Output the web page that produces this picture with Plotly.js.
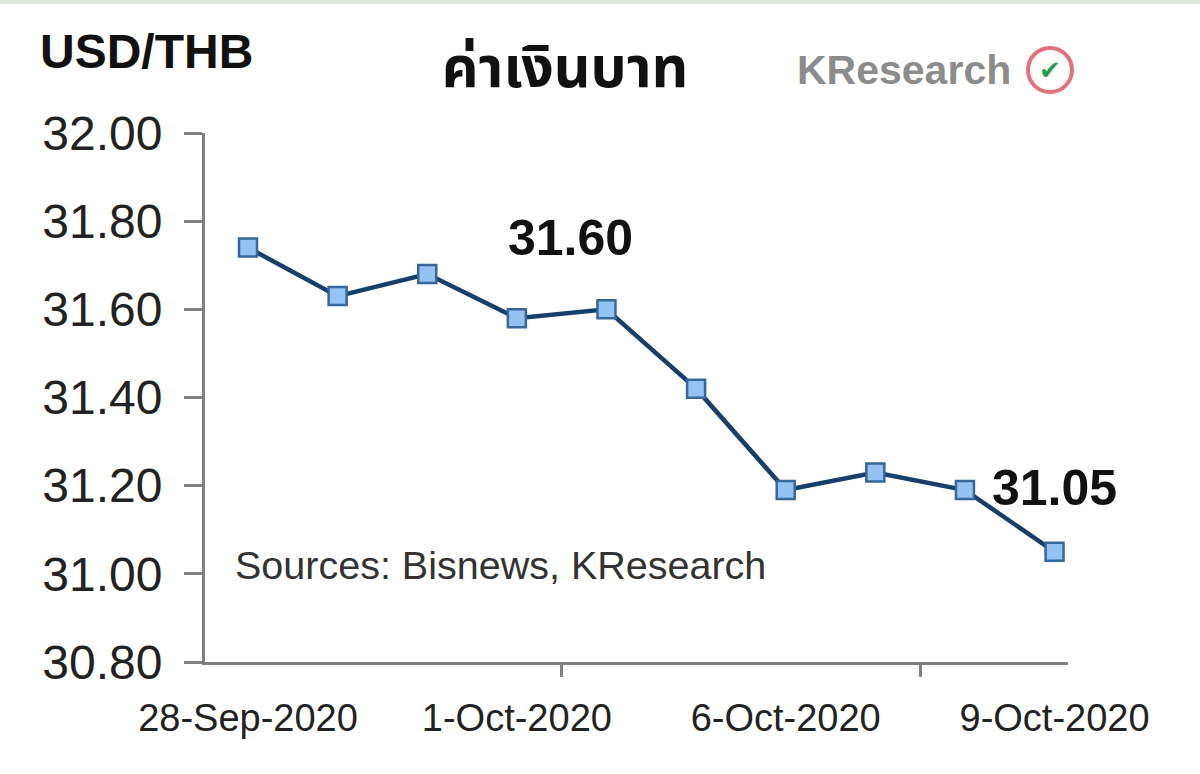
<!DOCTYPE html>
<html>
<head>
<meta charset="utf-8">
<script src="https://cdn.plot.ly/plotly-3.0.1.min.js"></script>
<style>
  html, body { margin: 0; padding: 0; background: #ffffff; }
  #chart { width: 1200px; height: 774px; }
</style>
</head>
<body>
<div id="chart"></div>
<script>
// ---- data ----
const dates = ['28-Sep-2020','29-Sep-2020','30-Sep-2020','1-Oct-2020','2-Oct-2020',
               '5-Oct-2020','6-Oct-2020','7-Oct-2020','8-Oct-2020','9-Oct-2020'];
const usdThb = [31.74, 31.63, 31.68, 31.58, 31.60, 31.42, 31.19, 31.23, 31.19, 31.05];
const xTickLabels = ['28-Sep-2020','1-Oct-2020','6-Oct-2020','9-Oct-2020'];
const yTicks = [30.80, 31.00, 31.20, 31.40, 31.60, 31.80, 32.00];
const labelledIdx = [4, 9];

// ---- layout geometry (pixels) ----
const W = 1200, H = 774;
const L = 205, R = 1068, T = 133, B = 662;
const px = p => (p - L) / (R - L);
const py = p => (B - p) / (B - T);

const FONT = 'Liberation Sans, Arial, Helvetica, sans-serif';
const THAI = 'Noto Sans Thai, Loma, Garuda, Tlwg Typo, Norasi, Noto Sans, DejaVu Sans, sans-serif';

const idx = dates.map((d, i) => i);

const traces = [
  {
    x: dates, y: usdThb, type: 'scatter', mode: 'lines+markers',
    line: { color: '#173f69', width: 4.5 },
    marker: { symbol: 'square', size: 18, color: '#93c3f3', line: { color: '#36679b', width: 2.5 } },
    cliponaxis: false, hoverinfo: 'x+y', showlegend: false
  },
  {
    // invisible helper on the secondary axis so tick marks between categories are drawn
    x: [idx[0] - 0.5], y: [usdThb[0]], xaxis: 'x2', type: 'scatter', mode: 'markers',
    marker: { opacity: 0 }, hoverinfo: 'skip', showlegend: false
  }
];

const xr = [-0.48, 9.15];

const annotations = [
  { text: '<b>USD/THB</b>', xref: 'paper', yref: 'paper', x: px(38), y: py(51),
    xanchor: 'left', yanchor: 'middle', showarrow: false,
    font: { family: FONT, size: 48, color: '#111111' } },
  { text: 'Sources: Bisnews, KResearch', xref: 'paper', yref: 'paper', x: px(233), y: py(565),
    xanchor: 'left', yanchor: 'middle', showarrow: false,
    font: { family: FONT, size: 39.5, color: '#333333' } },
  { text: '<b>KResearch</b>', xref: 'paper', yref: 'paper', x: px(795), y: py(70),
    xanchor: 'left', yanchor: 'middle', showarrow: false,
    font: { family: FONT, size: 41, color: '#8c8c8c' } },
  { text: '<b>✔</b>', xref: 'paper', yref: 'paper', x: px(1050), y: py(70),
    xanchor: 'center', yanchor: 'middle', showarrow: false,
    font: { family: 'DejaVu Sans, sans-serif', size: 26, color: '#1e9e4a' } }
];
labelledIdx.forEach((i, k) => {
  annotations.push({
    text: '<b>' + usdThb[i].toFixed(2) + '</b>', x: i, y: usdThb[i], xref: 'x', yref: 'y',
    showarrow: false, xanchor: 'center', yanchor: 'middle',
    xshift: k === 0 ? -36 : 0, yshift: k === 0 ? 71 : 64,
    font: { family: FONT, size: 50, color: '#111111' }
  });
});

const layout = {
  width: W, height: H,
  margin: { l: L, r: W - R, t: T, b: H - B, pad: 0 },
  paper_bgcolor: '#ffffff', plot_bgcolor: '#ffffff',
  showlegend: false,
  title: { text: '<b>ค่าเงินบาท</b>', x: 565 / W, xanchor: 'center', y: 1 - 67 / H, yanchor: 'middle',
           font: { family: THAI, size: 57, color: '#111111' } },
  xaxis: {
    type: 'category', range: xr, showgrid: false, zeroline: false,
    showline: true, linecolor: '#808080', linewidth: 3,
    tickmode: 'array', tickvals: xTickLabels, ticktext: xTickLabels, ticks: '',
    tickfont: { family: FONT, size: 38, color: '#222222' }, ticklabelstandoff: 20,
    fixedrange: true
  },
  xaxis2: {
    type: 'linear', overlaying: 'x', anchor: 'y', side: 'bottom', range: xr,
    showgrid: false, zeroline: false, showline: false, showticklabels: false,
    tickmode: 'array', tickvals: [-0.5, 3.5, 7.5], ticks: 'outside', ticklen: 14, tickwidth: 3,
    tickcolor: '#808080', fixedrange: true
  },
  yaxis: {
    range: [30.8, 32.0], showgrid: false, zeroline: false,
    showline: true, linecolor: '#808080', linewidth: 3,
    tickmode: 'array', tickvals: yTicks, ticktext: yTicks.map(v => v.toFixed(2)),
    ticks: 'outside', ticklen: 18, tickwidth: 3, tickcolor: '#808080',
    tickfont: { family: FONT, size: 48, color: '#222222' }, ticklabelstandoff: 12,
    fixedrange: true
  },
  annotations: annotations,
  shapes: [
    { type: 'rect', xref: 'paper', yref: 'paper', x0: px(0), x1: px(W), y0: py(4), y1: py(0),
      fillcolor: '#dfe4de', line: { width: 0 }, layer: 'below' },
    { type: 'circle', xref: 'paper', yref: 'paper', x0: px(1028), x1: px(1072), y0: py(92), y1: py(48),
      line: { color: '#e3707e', width: 4 }, fillcolor: 'rgba(0,0,0,0)' }
  ]
};

Plotly.newPlot('chart', traces, layout, { displayModeBar: false, staticPlot: true });
</script>
</body>
</html>
